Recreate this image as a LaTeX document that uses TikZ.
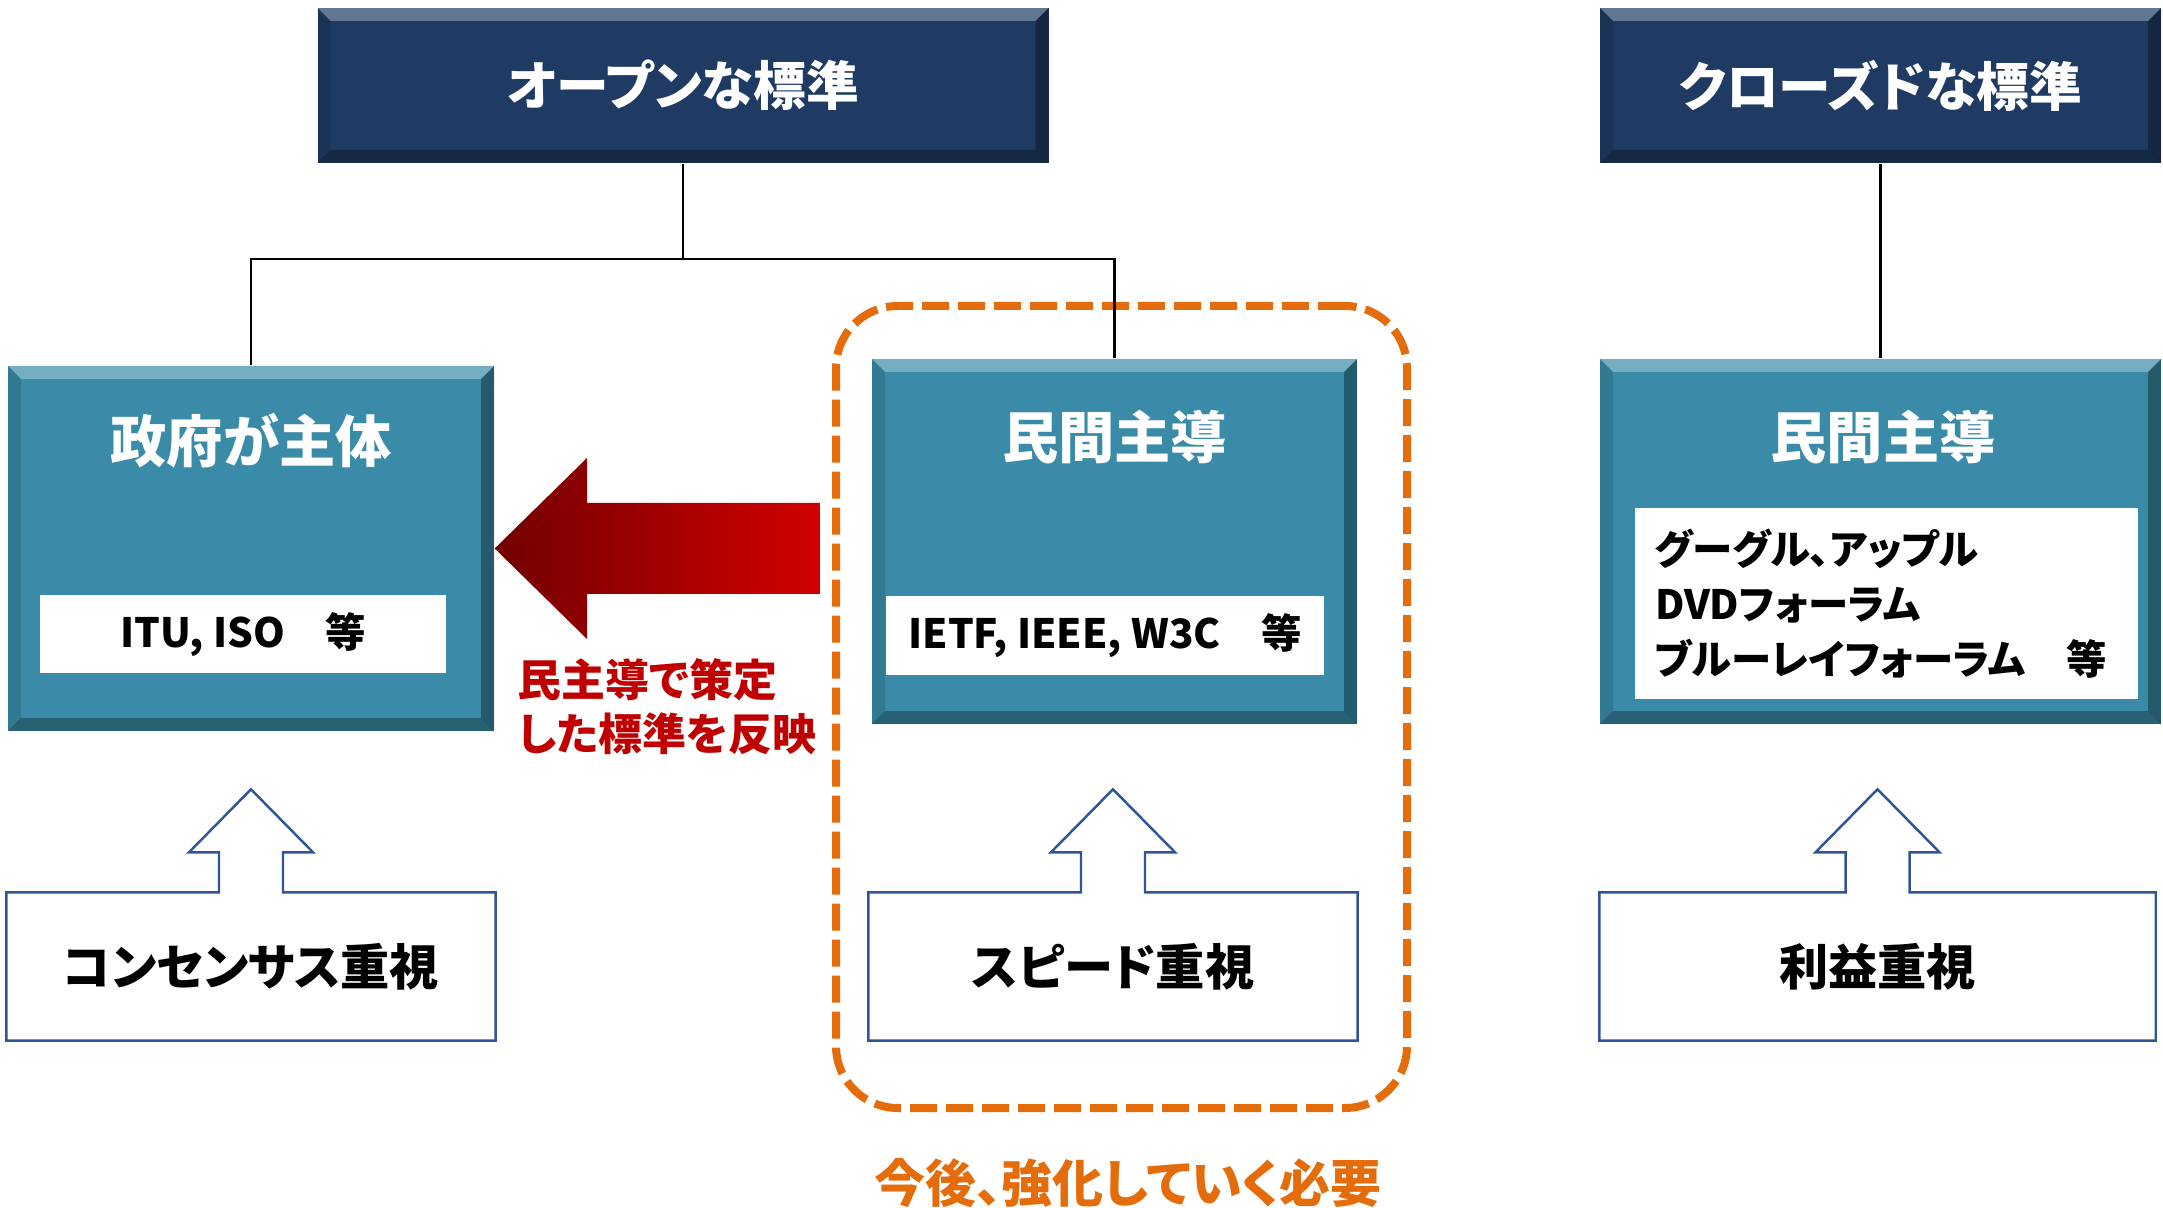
\documentclass[tikz,border=0pt]{standalone}
\usepackage{fontspec}
\setmainfont{Noto Sans CJK JP}[RawFeature=+palt]
\usetikzlibrary{calc}

\definecolor{stdnavy}{HTML}{1F3B64}
\definecolor{stdteal}{HTML}{3A8BA7}
\definecolor{stdorange}{HTML}{E46C0A}
\definecolor{stdred}{HTML}{C00000}
\definecolor{stdline}{HTML}{2F5597}
\definecolor{arrowdark}{HTML}{720000}
\definecolor{arrowlight}{HTML}{D20000}

\tikzset{
  bevel/.style={path picture={
      \coordinate (bnw) at (path picture bounding box.north west);
      \coordinate (bne) at (path picture bounding box.north east);
      \coordinate (bse) at (path picture bounding box.south east);
      \coordinate (bsw) at (path picture bounding box.south west);
      \fill[white, opacity=.3] (bnw) -- (bne) -- ([shift={(-1.3mm,-1.3mm)}]bne) -- ([shift={(1.3mm,-1.3mm)}]bnw) -- cycle;
      \fill[black, opacity=.35] (bne) -- (bse) -- ([shift={(-1.3mm,1.3mm)}]bse) -- ([shift={(-1.3mm,-1.3mm)}]bne) -- cycle;
      \fill[black, opacity=.3] (bsw) -- (bse) -- ([shift={(-1.3mm,1.3mm)}]bse) -- ([shift={(1.3mm,1.3mm)}]bsw) -- cycle;
      \fill[black, opacity=.12] (bnw) -- (bsw) -- ([shift={(1.3mm,1.3mm)}]bsw) -- ([shift={(1.3mm,-1.3mm)}]bnw) -- cycle;
    }},
  head/.style={bevel, fill=stdnavy, inner sep=0pt, minimum height=15.5mm, text=white, font=\bfseries\fontsize{15}{18}\selectfont},
  group/.style={bevel, fill=stdteal, inner sep=0pt, minimum height=36.5mm},
  grouptitle/.style={text=white, inner sep=0pt, font=\bfseries\fontsize{16}{19}\selectfont},
  members/.style={fill=white, inner sep=0pt, minimum height=7.8mm, font=\bfseries\fontsize{11.5}{15.6}\selectfont},
  focus/.style={inner sep=0pt, minimum height=14.7mm, font=\bfseries\fontsize{14}{17}\selectfont},
  focusline/.style={draw=stdline, line width=0.7pt},
  branch/.style={draw=black, line width=0.7pt},
}

\begin{document}
\begin{tikzpicture}[x=1mm, y=-1mm]
  \useasboundingbox (0,0) rectangle (216.3,120.8);

  % area to be strengthened
  \node[draw=stdorange, line width=0.8mm, dash pattern=on 2.7mm off 0.9mm, rounded corners=6.2mm, minimum width=57.1mm, minimum height=80.2mm, inner sep=0pt] (focusarea) at (112.15,70.7) {};
  \node[text=stdorange, font=\bfseries\fontsize{14.5}{17}\selectfont] (future) at (112.8,118.3) {今後、強化していく必要};

  % top level
  \node[head, minimum width=73.1mm] (open) at (68.3,8.55) {オープンな標準};
  \node[head, minimum width=56.1mm] (closed) at (188.05,8.55) {クローズドな標準};

  % second level
  \node[group, minimum width=48.6mm] (gov) at (25.1,54.85) {};
  \node[grouptitle] (govtitle) at (25.1,44.1) {政府が主体};
  \node[members, minimum width=40.6mm] (govorgs) at (24.3,63.45) {ITU, ISO　等};

  \node[group, minimum width=48.5mm] (private) at (111.45,54.15) {};
  \node[grouptitle] (privtitle) at (111.45,43.7) {民間主導};
  \node[members, minimum width=43.8mm, minimum height=7.9mm] (privorgs) at (110.5,63.55) {IETF, IEEE, W3C　等};

  \node[group, minimum width=56.1mm] (closedgroup) at (188.05,54.15) {};
  \node[grouptitle] (closedtitle) at (188.3,43.7) {民間主導};
  \node[members, minimum width=50.3mm, minimum height=19.1mm, inner xsep=2mm, text width=46.3mm, align=left] (closedorgs) at (188.65,60.35) {グーグル、アップル\\DVDフォーラム\\ブルーレイフォーラム　等};

  \coordinate (split) at (68.3,25.9);
  \draw[branch] (open.south) -- (split) -| (gov.north);
  \draw[branch] (split) -| (private.north);
  \draw[branch] (closed.south) -- (closedgroup.north);

  % feedback arrow
  \shade[left color=arrowdark, right color=arrowlight] (gov.east) -- (58.7,45.8) -- (58.7,50.3) -- (82.0,50.3) -- (82.0,59.4) -- (58.7,59.4) -- (58.7,63.9) -- cycle;
  \node[text=stdred, align=left, anchor=west, inner sep=0pt, font=\bfseries\fontsize{12.5}{15.3}\selectfont] (reflect) at (51.7,70.7) {民主導で策定\\した標準を反映};

  % priorities
  \foreach \nm/\cx/\w/\txt in {consensus/25.1/48.8/コンセンサス重視, speed/111.3/48.8/スピード重視, profit/187.75/55.5/利益重視} {
    \node[focus, minimum width=\w mm] (\nm) at (\cx,96.65) {\txt};
    \draw[focusline] (\nm.north west) -- ($(\nm.north)+(-3.2,0)$) -- ++(0,-4) -- ++(-3,0) -- ($(\nm.north)+(0,-10.3)$) -- ($(\nm.north)+(6.2,-4)$) -- ++(-3,0) -- ++(0,4) -- (\nm.north east) -- (\nm.south east) -- (\nm.south west) -- cycle;
  }
\end{tikzpicture}
\end{document}
